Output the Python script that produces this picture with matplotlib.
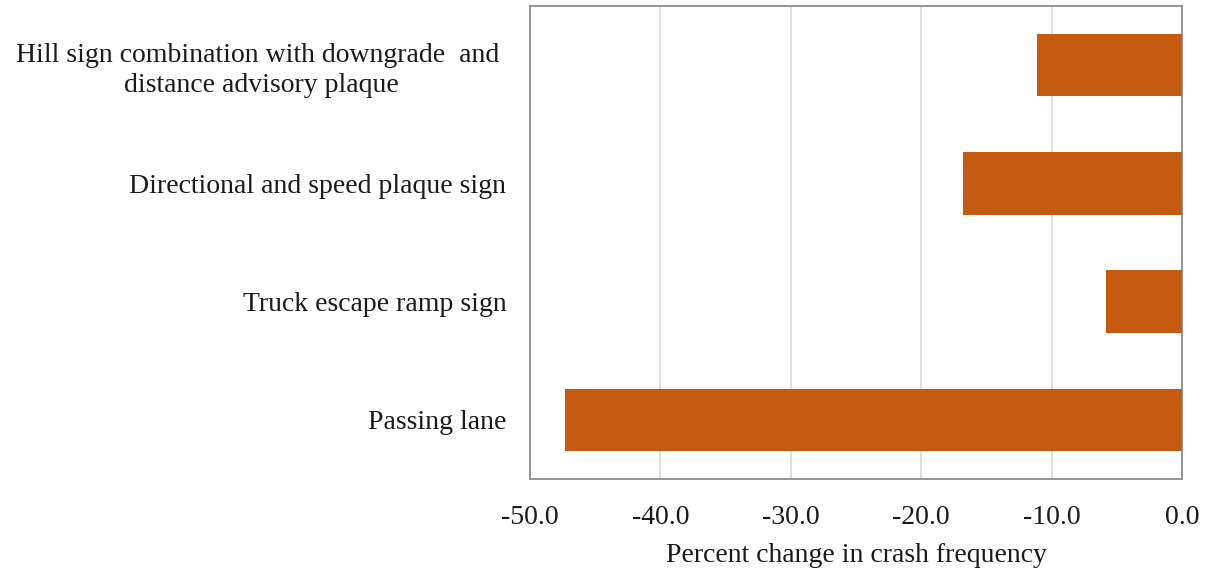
import matplotlib.pyplot as plt
from matplotlib.ticker import FormatStrFormatter

# Data
categories = ['Hill sign combination with downgrade  and \ndistance advisory plaque',
              'Directional and speed plaque sign',
              'Truck escape ramp sign',
              'Passing lane']
pct_change = [-11.1, -16.8, -5.8, -47.3]
x_ticks = [-50, -40, -30, -20, -10, 0]

plt.rcParams['font.family'] = ['Liberation Serif', 'DejaVu Serif']

fig = plt.figure(figsize=(12.06, 5.68), dpi=100)
ax = fig.add_axes([0.4395, 0.1567, 0.5406, 0.8327])

pos = list(range(len(categories)))
ax.barh(pos, pct_change, height=0.53, color='#C55A11', zorder=3)

ax.set_xlim(-50, 0)
ax.set_ylim(len(categories) - 0.5, -0.5)
ax.set_xticks(x_ticks)
ax.xaxis.set_major_formatter(FormatStrFormatter('%.1f'))
ax.set_yticks(pos)
ax.set_yticklabels(categories, multialignment='center', linespacing=1.25)
ax.tick_params(axis='both', length=0, labelsize=20, colors='#1a1a1a')
ax.tick_params(axis='x', pad=19)
ax.tick_params(axis='y', pad=17)

ax.grid(axis='x', color='#d9d9d9', linewidth=1.2, zorder=0)
for s in ax.spines.values():
    s.set_color('#8c8c8c')
    s.set_linewidth(1.3)

ax.set_xlabel('Percent change in crash frequency', fontsize=20, color='#1a1a1a', labelpad=9)

fig.savefig('out.png', dpi=100)
